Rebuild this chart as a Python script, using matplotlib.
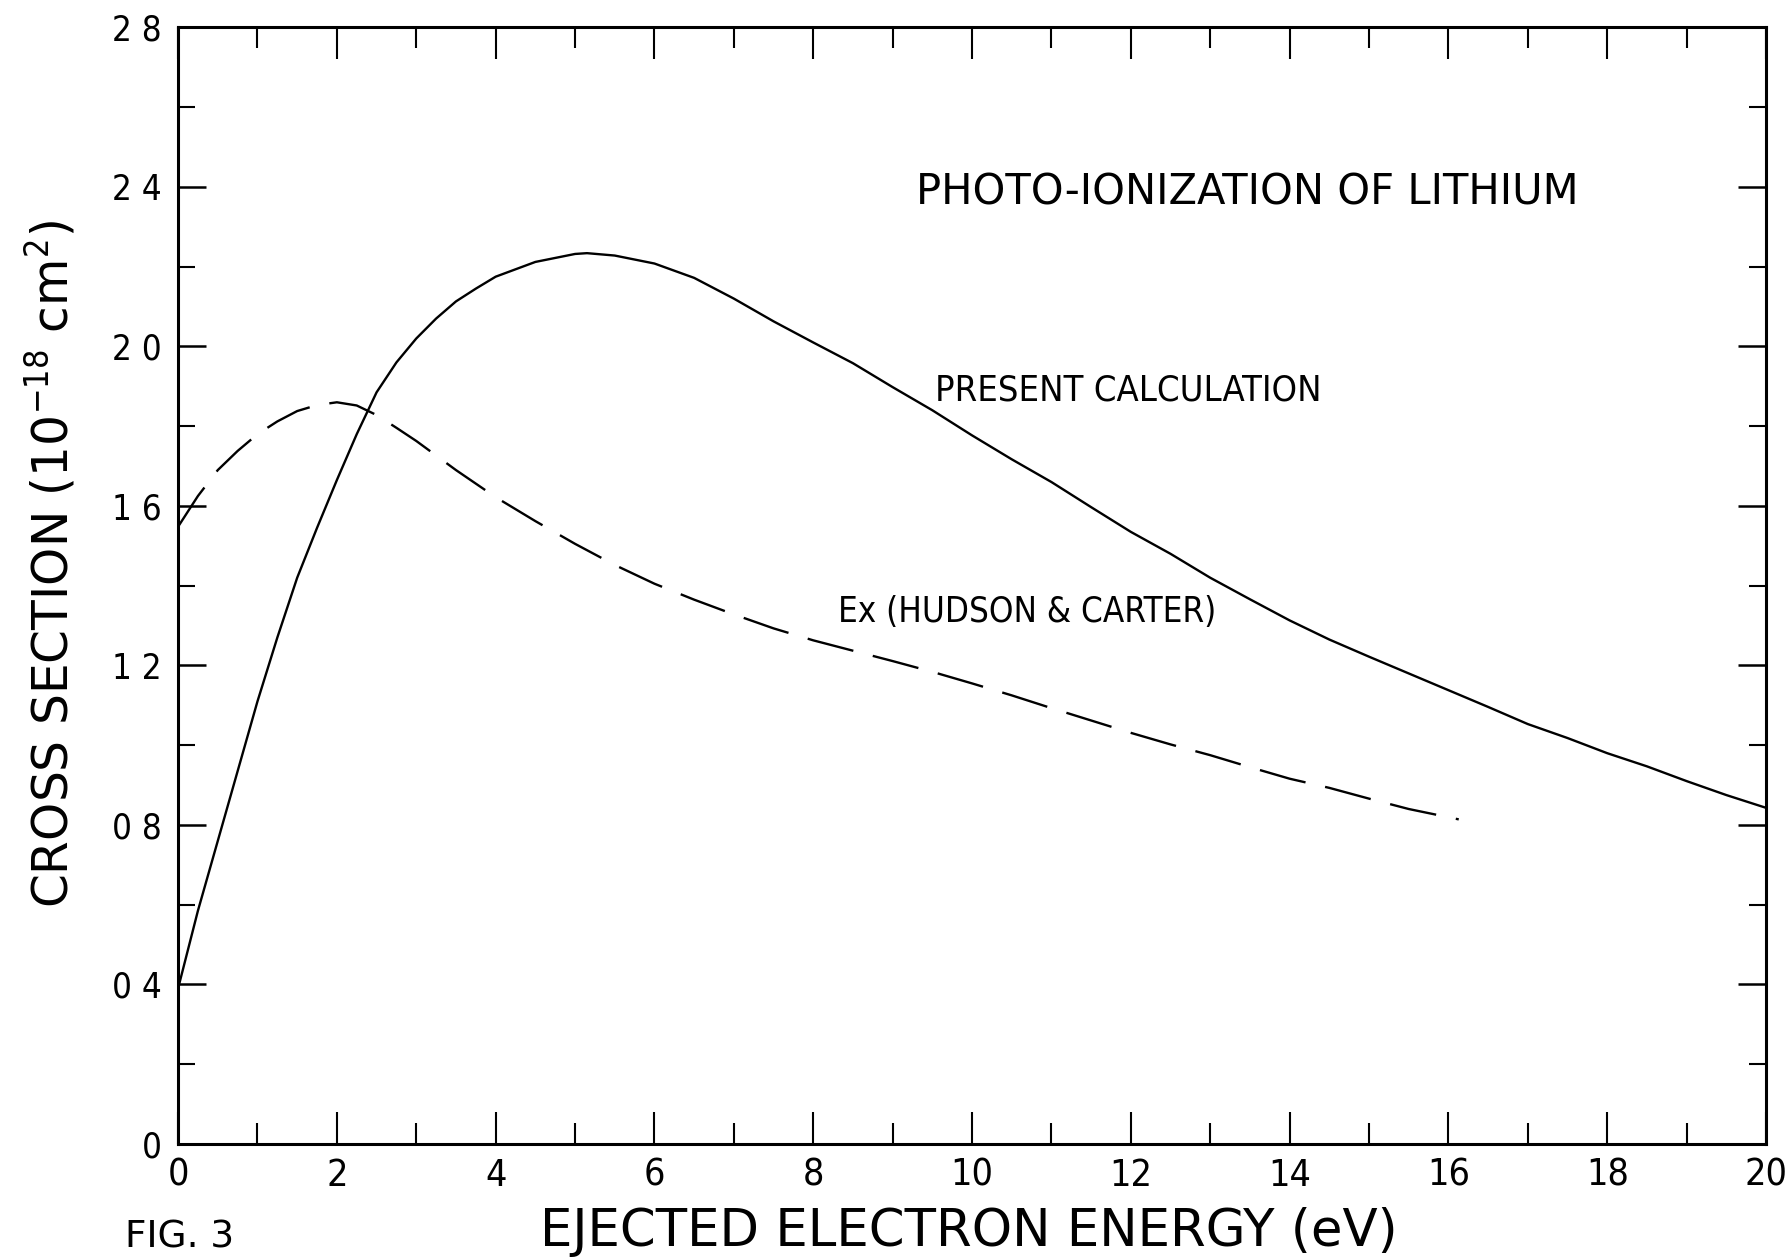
import matplotlib
matplotlib.use('Agg')
import matplotlib.pyplot as plt
from matplotlib.ticker import MultipleLocator, FixedLocator, FixedFormatter

# photo-ionization cross section of lithium, units of 1e-18 cm^2 vs ejected electron energy (eV)
calc_energy = [0.0, 0.25, 0.5, 0.75, 1.0, 1.25, 1.5, 1.75, 2.0, 2.25, 2.5, 2.75, 3.0,
               3.25, 3.5, 3.75, 4.0, 4.5, 5.0, 5.15, 5.5, 6.0, 6.5, 7.0, 7.5, 8.0,
               8.5, 9.0, 9.5, 10.0, 10.5, 11.0, 11.5, 12.0, 12.5, 13.0, 13.5, 14.0,
               14.5, 15.0, 15.5, 16.0, 16.5, 17.0, 17.5, 18.0, 18.5, 19.0, 19.5, 20.0]
calc_sigma = [0.39, 0.585, 0.76, 0.935, 1.11, 1.27, 1.42, 1.545, 1.665, 1.78, 1.885, 1.96, 2.02,
              2.07, 2.113, 2.145, 2.175, 2.212, 2.232, 2.234, 2.228, 2.208, 2.172, 2.12, 2.063, 2.01,
              1.958, 1.898, 1.84, 1.777, 1.717, 1.66, 1.597, 1.535, 1.48, 1.42, 1.366, 1.313,
              1.265, 1.222, 1.18, 1.138, 1.096, 1.053, 1.018, 0.98, 0.947, 0.91, 0.875, 0.843]

# experimental curve (Hudson & Carter)
exp_energy = [0.0, 0.25, 0.5, 0.75, 1.0, 1.25, 1.5, 1.75, 2.0, 2.25, 2.5, 2.75, 3.0,
              3.5, 4.0, 4.5, 5.0, 5.5, 6.0, 6.5, 7.0, 7.5, 8.0, 8.5, 9.0, 9.5, 10.0,
              10.5, 11.0, 11.5, 12.0, 12.5, 13.0, 13.5, 14.0, 14.5, 15.0, 15.5, 16.13]
exp_sigma = [1.548, 1.625, 1.69, 1.738, 1.78, 1.812, 1.838, 1.853, 1.86, 1.852, 1.828, 1.796, 1.763,
             1.69, 1.622, 1.562, 1.505, 1.452, 1.405, 1.365, 1.328, 1.293, 1.263, 1.237, 1.211, 1.184, 1.155,
             1.125, 1.093, 1.062, 1.031, 1.002, 0.975, 0.945, 0.916, 0.893, 0.866, 0.84, 0.814]

y_tick_vals = [0, 0.4, 0.8, 1.2, 1.6, 2.0, 2.4, 2.8]
y_tick_text = ["0", "0 4", "0 8", "1 2", "1 6", "2 0", "2 4", "2 8"]
x_tick_vals = [0, 2, 4, 6, 8, 10, 12, 14, 16, 18, 20]

plt.rcParams['font.family'] = ['DejaVu Sans']
plt.rcParams['font.stretch'] = 'condensed'   # narrow lettering for ticks and curve labels

fig = plt.figure(figsize=(17.88, 12.6), dpi=100)
ax = fig.add_axes([0.0996, 0.0921, 0.8881, 0.8861])

ax.plot(calc_energy, calc_sigma, color='black', lw=1.7)
ax.plot(exp_energy, exp_sigma, color='black', lw=1.7, dashes=(20, 8.5))

ax.set_xlim(0, 20)
ax.set_ylim(0, 2.8)

ax.xaxis.set_major_locator(FixedLocator(x_tick_vals))
ax.xaxis.set_minor_locator(MultipleLocator(1))
ax.yaxis.set_major_locator(FixedLocator(y_tick_vals))
ax.yaxis.set_major_formatter(FixedFormatter(y_tick_text))
ax.yaxis.set_minor_locator(MultipleLocator(0.2))

ax.tick_params(which='both', direction='in', top=True, right=True, color='black')
ax.tick_params(axis='x', which='major', length=23, width=1.5, labelsize=27, pad=10)
ax.tick_params(axis='x', which='minor', length=15, width=1.5)
ax.tick_params(axis='y', which='major', length=20, width=1.8, labelsize=25, pad=12)
ax.tick_params(axis='y', which='minor', length=12, width=1.5)
for sp in ax.spines.values():
    sp.set_linewidth(2.2)

ax.text(9.3, 2.385, "PHOTO-IONIZATION OF LITHIUM", fontsize=30, fontstretch='normal',
        ha='left', va='center')
ax.text(9.53, 1.89, "PRESENT CALCULATION", fontsize=26, ha='left', va='center')
ax.text(8.31, 1.335, "Ex (HUDSON & CARTER)", fontsize=25, ha='left', va='center')

fig.text(0.542, 0.022, "EJECTED ELECTRON ENERGY (eV)", fontsize=37, fontstretch='normal',
         ha='center', va='center')
fig.text(0.0285, 0.552, r"CROSS SECTION (10$^{-18}$ cm$^{2}$)", fontsize=35,
         fontstretch='normal', rotation=90, ha='center', va='center')
fig.text(0.07, 0.018, "FIG. 3", fontsize=27, fontstretch='normal', ha='left', va='center')

fig.savefig("out.png", dpi=100)
